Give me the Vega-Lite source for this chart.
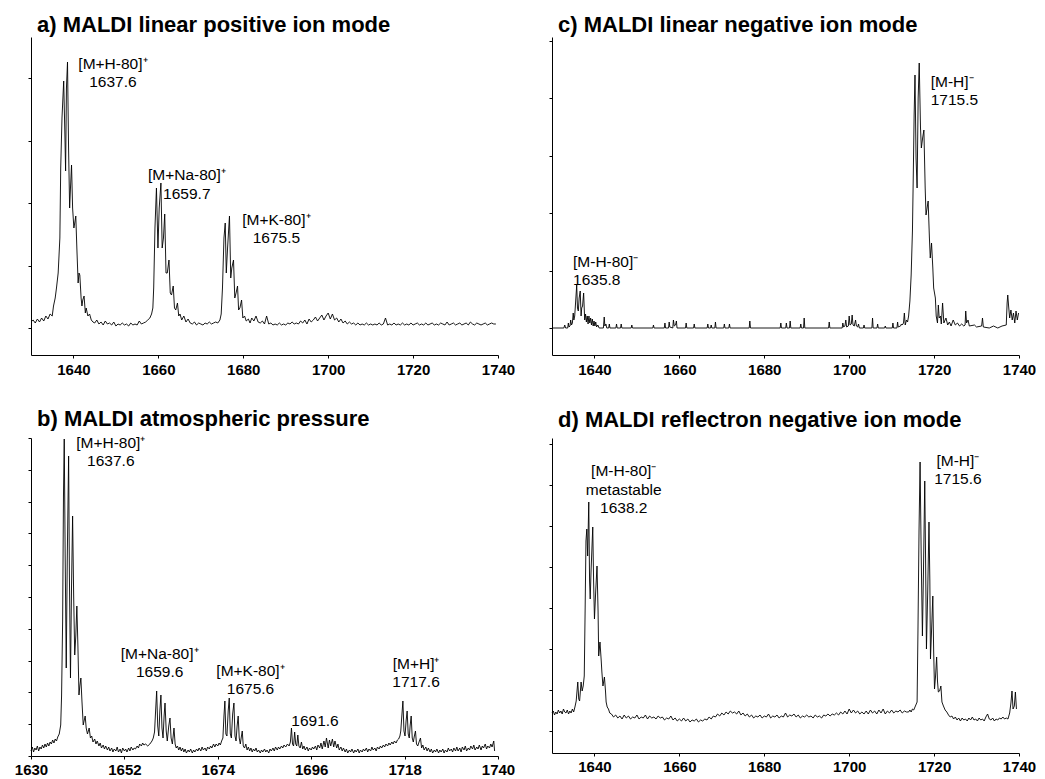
{
"$schema": "https://vega.github.io/schema/vega-lite/v6.json",
"background": "white",
"padding": {"left": 14, "top": 14, "right": 0, "bottom": 0},
"columns": 2,
"spacing": {"row": 83, "column": 54},
"bounds": "flush",
"align": "all",
"config": {
  "font": "Liberation Sans",
  "view": {"stroke": null},
  "axis": {"grid": false, "domainColor": "black", "domainWidth": 1, "tickColor": "black", "tickWidth": 1, "labelColor": "black", "title": null},
  "title": {"anchor": "start", "frame": "group", "fontSize": 22, "fontWeight": "bold", "font": "Liberation Sans", "color": "black", "baseline": "alphabetic", "dx": 6},
  "text": {"font": "Liberation Sans", "fontSize": 15.5, "color": "black", "lineBreak": "\n", "lineHeight": 18.5, "baseline": "alphabetic"}
},
"datasets": {
"a": [
{"mz":1630,"i":6},{"mz":1630.5,"i":8},{"mz":1631,"i":5},{"mz":1631.5,"i":9},{"mz":1632,"i":6},{"mz":1632.5,"i":10},{"mz":1633,"i":7},{"mz":1633.5,"i":12},{"mz":1634,"i":9},{"mz":1634.5,"i":14},{"mz":1635,"i":12},{"mz":1635.3,"i":22},{"mz":1635.7,"i":30},{"mz":1636,"i":40},{"mz":1636.4,"i":55},{"mz":1636.8,"i":90},{"mz":1637.0,"i":160},{"mz":1637.3,"i":210},{"mz":1637.7,"i":247},{"mz":1638.0,"i":190},{"mz":1638.15,"i":157},{"mz":1638.35,"i":240},{"mz":1638.6,"i":266},{"mz":1638.85,"i":180},{"mz":1639.1,"i":120},{"mz":1639.3,"i":140},{"mz":1639.55,"i":163},{"mz":1639.8,"i":120},{"mz":1640.1,"i":100},{"mz":1640.3,"i":105},{"mz":1640.55,"i":112},{"mz":1640.8,"i":80},{"mz":1641.1,"i":45},{"mz":1641.3,"i":55},{"mz":1641.5,"i":53},{"mz":1641.8,"i":30},{"mz":1642.0,"i":22},{"mz":1642.2,"i":28},{"mz":1642.5,"i":32},{"mz":1642.8,"i":15},{"mz":1643.0,"i":20},{"mz":1643.4,"i":12},{"mz":1643.8,"i":14},{"mz":1644.2,"i":8},{"mz":1644.6,"i":6},{"mz":1645,"i":5},{"mz":1645.5,"i":8},{"mz":1646,"i":4},{"mz":1646.5,"i":6},{"mz":1647,"i":3},{"mz":1647.5,"i":7},{"mz":1648,"i":4},{"mz":1648.5,"i":5},{"mz":1649,"i":3},{"mz":1649.5,"i":6},{"mz":1650,"i":2},{"mz":1650.5,"i":4},{"mz":1651,"i":3},{"mz":1651.5,"i":5},{"mz":1652,"i":3},{"mz":1652.5,"i":4},{"mz":1653,"i":2},{"mz":1653.5,"i":5},{"mz":1654,"i":3},{"mz":1654.5,"i":4},{"mz":1655,"i":3},{"mz":1655.5,"i":7},{"mz":1656,"i":4},{"mz":1656.5,"i":5},{"mz":1657,"i":6},{"mz":1657.5,"i":8},{"mz":1658,"i":10},{"mz":1658.4,"i":14},{"mz":1658.7,"i":20},{"mz":1658.9,"i":40},{"mz":1659.2,"i":100},{"mz":1659.55,"i":140},{"mz":1659.9,"i":80},{"mz":1660.2,"i":120},{"mz":1660.6,"i":145},{"mz":1660.9,"i":80},{"mz":1661.2,"i":90},{"mz":1661.5,"i":114},{"mz":1661.8,"i":55},{"mz":1662.1,"i":55},{"mz":1662.5,"i":68},{"mz":1662.8,"i":35},{"mz":1663.1,"i":33},{"mz":1663.5,"i":42},{"mz":1663.8,"i":20},{"mz":1664.1,"i":18},{"mz":1664.5,"i":25},{"mz":1664.8,"i":12},{"mz":1665.1,"i":14},{"mz":1665.5,"i":8},{"mz":1666,"i":12},{"mz":1666.5,"i":6},{"mz":1667,"i":9},{"mz":1667.5,"i":5},{"mz":1668,"i":4},{"mz":1668.5,"i":6},{"mz":1669,"i":3},{"mz":1669.5,"i":5},{"mz":1670,"i":4},{"mz":1670.5,"i":3},{"mz":1671,"i":5},{"mz":1671.5,"i":4},{"mz":1672,"i":6},{"mz":1672.5,"i":4},{"mz":1673,"i":5},{"mz":1673.5,"i":6},{"mz":1674,"i":5},{"mz":1674.5,"i":8},{"mz":1674.8,"i":14},{"mz":1675.1,"i":40},{"mz":1675.45,"i":90},{"mz":1675.75,"i":105},{"mz":1676.0,"i":55},{"mz":1676.3,"i":80},{"mz":1676.75,"i":112},{"mz":1677.05,"i":50},{"mz":1677.3,"i":60},{"mz":1677.7,"i":68},{"mz":1678.0,"i":30},{"mz":1678.3,"i":35},{"mz":1678.65,"i":42},{"mz":1678.9,"i":18},{"mz":1679.2,"i":20},{"mz":1679.6,"i":28},{"mz":1679.9,"i":10},{"mz":1680.3,"i":12},{"mz":1680.7,"i":7},{"mz":1681.2,"i":9},{"mz":1681.6,"i":5},{"mz":1682,"i":10},{"mz":1682.5,"i":7},{"mz":1683,"i":12},{"mz":1683.5,"i":6},{"mz":1684,"i":5},{"mz":1684.5,"i":7},{"mz":1685,"i":4},{"mz":1685.5,"i":12},{"mz":1686,"i":4},{"mz":1686.5,"i":5},{"mz":1687,"i":3},{"mz":1687.5,"i":4},{"mz":1688,"i":3},{"mz":1688.5,"i":5},{"mz":1689,"i":3},{"mz":1689.5,"i":4},{"mz":1690,"i":3},{"mz":1690.5,"i":5},{"mz":1691,"i":4},{"mz":1691.5,"i":6},{"mz":1692,"i":4},{"mz":1692.5,"i":5},{"mz":1693,"i":4},{"mz":1693.5,"i":7},{"mz":1694,"i":5},{"mz":1694.5,"i":8},{"mz":1695,"i":4},{"mz":1695.5,"i":9},{"mz":1696,"i":6},{"mz":1696.5,"i":8},{"mz":1697,"i":11},{"mz":1697.5,"i":7},{"mz":1698,"i":10},{"mz":1698.5,"i":13},{"mz":1699,"i":8},{"mz":1699.5,"i":12},{"mz":1700,"i":15},{"mz":1700.5,"i":9},{"mz":1701,"i":14},{"mz":1701.5,"i":8},{"mz":1702,"i":10},{"mz":1702.5,"i":6},{"mz":1703,"i":9},{"mz":1703.5,"i":5},{"mz":1704,"i":7},{"mz":1704.5,"i":4},{"mz":1705,"i":6},{"mz":1705.5,"i":4},{"mz":1706,"i":5},{"mz":1706.5,"i":3},{"mz":1707,"i":5},{"mz":1707.5,"i":3},{"mz":1708,"i":4},{"mz":1708.5,"i":3},{"mz":1709,"i":5},{"mz":1709.5,"i":3},{"mz":1710,"i":4},{"mz":1710.5,"i":3},{"mz":1711,"i":4},{"mz":1711.5,"i":3},{"mz":1712,"i":5},{"mz":1712.5,"i":3},{"mz":1713,"i":4},{"mz":1713.5,"i":10},{"mz":1714,"i":3},{"mz":1714.5,"i":4},{"mz":1715,"i":3},{"mz":1715.5,"i":5},{"mz":1716,"i":3},{"mz":1716.5,"i":4},{"mz":1717,"i":3},{"mz":1717.5,"i":5},{"mz":1718,"i":3},{"mz":1718.5,"i":4},{"mz":1719,"i":3},{"mz":1719.5,"i":5},{"mz":1720,"i":3},{"mz":1720.5,"i":4},{"mz":1721,"i":5},{"mz":1721.5,"i":3},{"mz":1722,"i":4},{"mz":1722.5,"i":3},{"mz":1723,"i":5},{"mz":1723.5,"i":3},{"mz":1724,"i":4},{"mz":1724.5,"i":5},{"mz":1725,"i":3},{"mz":1725.5,"i":4},{"mz":1726,"i":3},{"mz":1726.5,"i":5},{"mz":1727,"i":4},{"mz":1727.5,"i":3},{"mz":1728,"i":6},{"mz":1728.5,"i":3},{"mz":1729,"i":4},{"mz":1729.5,"i":5},{"mz":1730,"i":3},{"mz":1730.5,"i":4},{"mz":1731,"i":5},{"mz":1731.5,"i":3},{"mz":1732,"i":4},{"mz":1732.5,"i":5},{"mz":1733,"i":3},{"mz":1733.5,"i":6},{"mz":1734,"i":4},{"mz":1734.5,"i":3},{"mz":1735,"i":5},{"mz":1735.5,"i":4},{"mz":1736,"i":3},{"mz":1736.5,"i":4},{"mz":1737,"i":5},{"mz":1737.5,"i":3},{"mz":1738,"i":4},{"mz":1738.5,"i":5},{"mz":1739,"i":4},{"mz":1739.5,"i":4}
],
"a_t": [
{"mz":1649.3,"i":259.5,"t":"[M+H-80]⁺\n1637.6"},
{"mz":1666.7,"i":148,"t":"[M+Na-80]⁺\n1659.7"},
{"mz":1687.8,"i":103.5,"t":"[M+K-80]⁺\n1675.5"}
],
"c": [
{"mz":1630,"i":0},{"mz":1632.8,"i":0},{"mz":1633,"i":3},{"mz":1633.2,"i":0},{"mz":1633.7,"i":0},{"mz":1633.85,"i":5},{"mz":1634.0,"i":1},{"mz":1634.25,"i":2},{"mz":1634.4,"i":8},{"mz":1634.6,"i":3},{"mz":1634.8,"i":5},{"mz":1635.0,"i":15},{"mz":1635.15,"i":8},{"mz":1635.35,"i":12},{"mz":1635.55,"i":25},{"mz":1635.82,"i":43},{"mz":1636.0,"i":20},{"mz":1636.2,"i":17},{"mz":1636.4,"i":30},{"mz":1636.65,"i":37},{"mz":1636.85,"i":12},{"mz":1637.0,"i":20},{"mz":1637.2,"i":22},{"mz":1637.45,"i":35},{"mz":1637.7,"i":8},{"mz":1637.9,"i":14},{"mz":1638.1,"i":6},{"mz":1638.3,"i":12},{"mz":1638.5,"i":4},{"mz":1638.7,"i":12},{"mz":1638.9,"i":5},{"mz":1639.1,"i":10},{"mz":1639.3,"i":3},{"mz":1639.5,"i":9},{"mz":1639.7,"i":2},{"mz":1639.9,"i":7},{"mz":1640.1,"i":2},{"mz":1640.3,"i":6},{"mz":1640.5,"i":1},{"mz":1640.8,"i":3},{"mz":1641.1,"i":0},{"mz":1642.1,"i":0},{"mz":1642.3,"i":11},{"mz":1642.45,"i":2},{"mz":1642.7,"i":4},{"mz":1642.9,"i":0},{"mz":1643.35,"i":0},{"mz":1643.5,"i":4},{"mz":1643.65,"i":0},{"mz":1645.05,"i":0},{"mz":1645.2,"i":4},{"mz":1645.35,"i":0},{"mz":1646.15,"i":0},{"mz":1646.3,"i":4},{"mz":1646.45,"i":0},{"mz":1648.65,"i":0},{"mz":1648.8,"i":3},{"mz":1648.95,"i":0},{"mz":1653.75,"i":0},{"mz":1653.9,"i":3},{"mz":1654.05,"i":0},{"mz":1656.45,"i":0},{"mz":1656.6,"i":5},{"mz":1656.75,"i":0},{"mz":1657.45,"i":0},{"mz":1657.6,"i":6},{"mz":1657.75,"i":1},{"mz":1658.45,"i":0},{"mz":1658.6,"i":8},{"mz":1658.8,"i":2},{"mz":1659.1,"i":3},{"mz":1659.3,"i":7},{"mz":1659.45,"i":0},{"mz":1661.45,"i":0},{"mz":1661.6,"i":5},{"mz":1661.75,"i":0},{"mz":1663.35,"i":0},{"mz":1663.5,"i":4},{"mz":1663.65,"i":0},{"mz":1666.55,"i":0},{"mz":1666.7,"i":4},{"mz":1666.85,"i":0},{"mz":1667.35,"i":0},{"mz":1667.5,"i":3},{"mz":1667.65,"i":0},{"mz":1668.35,"i":0},{"mz":1668.5,"i":6},{"mz":1668.65,"i":0},{"mz":1670.45,"i":0},{"mz":1670.6,"i":4},{"mz":1670.75,"i":0},{"mz":1671.65,"i":0},{"mz":1671.8,"i":4},{"mz":1671.95,"i":0},{"mz":1676.45,"i":0},{"mz":1676.6,"i":7},{"mz":1676.75,"i":0},{"mz":1683.75,"i":0},{"mz":1683.9,"i":5},{"mz":1684.05,"i":0},{"mz":1685.05,"i":0},{"mz":1685.2,"i":5},{"mz":1685.35,"i":0},{"mz":1685.95,"i":0},{"mz":1686.1,"i":7},{"mz":1686.25,"i":0},{"mz":1688.45,"i":0},{"mz":1688.6,"i":4},{"mz":1688.75,"i":0},{"mz":1689.25,"i":0},{"mz":1689.4,"i":10},{"mz":1689.55,"i":0},{"mz":1695.15,"i":0},{"mz":1695.3,"i":6},{"mz":1695.45,"i":0},{"mz":1698.35,"i":0},{"mz":1698.5,"i":5},{"mz":1698.7,"i":1},{"mz":1699.0,"i":2},{"mz":1699.2,"i":8},{"mz":1699.4,"i":1},{"mz":1699.8,"i":2},{"mz":1700.0,"i":12},{"mz":1700.2,"i":3},{"mz":1700.5,"i":4},{"mz":1700.7,"i":13},{"mz":1700.9,"i":3},{"mz":1701.2,"i":2},{"mz":1701.5,"i":8},{"mz":1701.7,"i":2},{"mz":1702.0,"i":1},{"mz":1702.2,"i":4},{"mz":1702.4,"i":0},{"mz":1703.35,"i":0},{"mz":1703.5,"i":3},{"mz":1703.65,"i":0},{"mz":1705.35,"i":0},{"mz":1705.5,"i":10},{"mz":1705.65,"i":0},{"mz":1706.55,"i":0},{"mz":1706.7,"i":4},{"mz":1706.85,"i":0},{"mz":1708.35,"i":0},{"mz":1708.5,"i":2},{"mz":1708.65,"i":0},{"mz":1710.15,"i":0},{"mz":1710.3,"i":5},{"mz":1710.45,"i":0},{"mz":1711.25,"i":0},{"mz":1711.4,"i":6},{"mz":1711.55,"i":1},{"mz":1712.1,"i":2},{"mz":1712.3,"i":4},{"mz":1712.5,"i":3},{"mz":1712.8,"i":5},{"mz":1713.0,"i":15},{"mz":1713.2,"i":3},{"mz":1713.5,"i":8},{"mz":1713.75,"i":6},{"mz":1714.0,"i":12},{"mz":1714.3,"i":27},{"mz":1714.6,"i":53},{"mz":1714.9,"i":97},{"mz":1715.1,"i":153},{"mz":1715.3,"i":213},{"mz":1715.5,"i":253},{"mz":1715.75,"i":170},{"mz":1716.0,"i":140},{"mz":1716.25,"i":230},{"mz":1716.5,"i":265},{"mz":1716.8,"i":200},{"mz":1717.0,"i":180},{"mz":1717.3,"i":190},{"mz":1717.6,"i":198},{"mz":1717.9,"i":140},{"mz":1718.1,"i":113},{"mz":1718.35,"i":120},{"mz":1718.6,"i":127},{"mz":1718.9,"i":90},{"mz":1719.1,"i":70},{"mz":1719.4,"i":85},{"mz":1719.7,"i":60},{"mz":1719.9,"i":40},{"mz":1720.3,"i":30},{"mz":1720.5,"i":12},{"mz":1720.8,"i":5},{"mz":1721.0,"i":23},{"mz":1721.2,"i":10},{"mz":1721.5,"i":12},{"mz":1721.7,"i":4},{"mz":1722.0,"i":25},{"mz":1722.3,"i":5},{"mz":1722.8,"i":10},{"mz":1723.2,"i":3},{"mz":1723.6,"i":6},{"mz":1724,"i":2},{"mz":1724.5,"i":8},{"mz":1725,"i":3},{"mz":1725.5,"i":5},{"mz":1726,"i":2},{"mz":1726.5,"i":4},{"mz":1727,"i":2},{"mz":1727.3,"i":3},{"mz":1727.45,"i":17},{"mz":1727.65,"i":5},{"mz":1728,"i":8},{"mz":1728.3,"i":2},{"mz":1729.5,"i":3},{"mz":1730,"i":1},{"mz":1731.2,"i":2},{"mz":1731.4,"i":10},{"mz":1731.6,"i":1},{"mz":1733,"i":0},{"mz":1734,"i":2},{"mz":1735,"i":0},{"mz":1736,"i":2},{"mz":1737,"i":3},{"mz":1737.2,"i":25},{"mz":1737.35,"i":33},{"mz":1737.55,"i":22},{"mz":1737.8,"i":10},{"mz":1738.1,"i":18},{"mz":1738.4,"i":8},{"mz":1738.7,"i":15},{"mz":1739.0,"i":5},{"mz":1739.3,"i":17},{"mz":1739.6,"i":8},{"mz":1739.9,"i":15}
],
"c_t": [
{"mz":1634.95,"i":61.5,"t":"[M-H-80]⁻\n1635.8"},
{"mz":1719.2,"i":241.5,"t":"[M-H]⁻\n1715.5"}
],
"b": [
{"mz":1630,"i":5},{"mz":1630.3,"i":9},{"mz":1630.6,"i":4},{"mz":1630.9,"i":8},{"mz":1631.2,"i":6},{"mz":1631.5,"i":10},{"mz":1631.8,"i":5},{"mz":1632.1,"i":9},{"mz":1632.4,"i":7},{"mz":1632.7,"i":11},{"mz":1633,"i":8},{"mz":1633.3,"i":12},{"mz":1633.6,"i":9},{"mz":1633.9,"i":13},{"mz":1634.2,"i":10},{"mz":1634.5,"i":14},{"mz":1634.8,"i":12},{"mz":1635.1,"i":16},{"mz":1635.4,"i":13},{"mz":1635.7,"i":17},{"mz":1636.0,"i":15},{"mz":1636.3,"i":19},{"mz":1636.65,"i":22},{"mz":1637.0,"i":31},{"mz":1637.2,"i":60},{"mz":1637.45,"i":135},{"mz":1637.65,"i":260},{"mz":1637.83,"i":317},{"mz":1638.05,"i":200},{"mz":1638.3,"i":88},{"mz":1638.55,"i":200},{"mz":1638.86,"i":300},{"mz":1639.05,"i":180},{"mz":1639.3,"i":78},{"mz":1639.55,"i":170},{"mz":1639.8,"i":240},{"mz":1640.05,"i":160},{"mz":1640.3,"i":101},{"mz":1640.55,"i":120},{"mz":1640.8,"i":150},{"mz":1641.05,"i":110},{"mz":1641.3,"i":61},{"mz":1641.5,"i":70},{"mz":1641.75,"i":78},{"mz":1642.0,"i":55},{"mz":1642.3,"i":31},{"mz":1642.5,"i":35},{"mz":1642.76,"i":40},{"mz":1643.0,"i":28},{"mz":1643.3,"i":22},{"mz":1643.7,"i":28},{"mz":1644.0,"i":18},{"mz":1644.3,"i":20},{"mz":1644.6,"i":14},{"mz":1645.0,"i":17},{"mz":1645.3,"i":12},{"mz":1645.6,"i":15},{"mz":1646.0,"i":10},{"mz":1646.3,"i":13},{"mz":1646.6,"i":8},{"mz":1647.0,"i":11},{"mz":1647.3,"i":7},{"mz":1647.6,"i":10},{"mz":1648,"i":6},{"mz":1648.3,"i":9},{"mz":1648.6,"i":5},{"mz":1649,"i":8},{"mz":1649.3,"i":4},{"mz":1649.6,"i":7},{"mz":1650,"i":5},{"mz":1650.3,"i":9},{"mz":1650.6,"i":4},{"mz":1651,"i":7},{"mz":1651.3,"i":3},{"mz":1651.6,"i":8},{"mz":1652,"i":5},{"mz":1652.3,"i":7},{"mz":1652.6,"i":4},{"mz":1653,"i":8},{"mz":1653.3,"i":5},{"mz":1653.6,"i":9},{"mz":1654,"i":6},{"mz":1654.3,"i":8},{"mz":1654.6,"i":7},{"mz":1655,"i":10},{"mz":1655.3,"i":8},{"mz":1655.6,"i":12},{"mz":1656,"i":10},{"mz":1656.3,"i":13},{"mz":1656.6,"i":11},{"mz":1657,"i":12},{"mz":1657.5,"i":10},{"mz":1658,"i":12},{"mz":1658.5,"i":15},{"mz":1658.8,"i":18},{"mz":1659.1,"i":24},{"mz":1659.35,"i":45},{"mz":1659.6,"i":65},{"mz":1659.85,"i":30},{"mz":1660.1,"i":20},{"mz":1660.35,"i":45},{"mz":1660.6,"i":61},{"mz":1660.85,"i":28},{"mz":1661.1,"i":18},{"mz":1661.35,"i":40},{"mz":1661.57,"i":53},{"mz":1661.85,"i":25},{"mz":1662.1,"i":15},{"mz":1662.45,"i":30},{"mz":1662.74,"i":38},{"mz":1663.0,"i":18},{"mz":1663.3,"i":12},{"mz":1663.68,"i":28},{"mz":1663.95,"i":12},{"mz":1664.2,"i":8},{"mz":1664.5,"i":10},{"mz":1664.8,"i":6},{"mz":1665.1,"i":9},{"mz":1665.4,"i":5},{"mz":1665.7,"i":8},{"mz":1666,"i":4},{"mz":1666.3,"i":7},{"mz":1666.6,"i":3},{"mz":1667,"i":6},{"mz":1667.3,"i":4},{"mz":1667.6,"i":7},{"mz":1668,"i":3},{"mz":1668.3,"i":6},{"mz":1668.6,"i":4},{"mz":1669,"i":7},{"mz":1669.3,"i":5},{"mz":1669.6,"i":8},{"mz":1670,"i":5},{"mz":1670.3,"i":9},{"mz":1670.6,"i":6},{"mz":1671,"i":8},{"mz":1671.3,"i":5},{"mz":1671.6,"i":9},{"mz":1672,"i":7},{"mz":1672.3,"i":10},{"mz":1672.6,"i":8},{"mz":1673,"i":12},{"mz":1673.3,"i":9},{"mz":1673.6,"i":12},{"mz":1674,"i":10},{"mz":1674.3,"i":13},{"mz":1674.6,"i":11},{"mz":1674.9,"i":15},{"mz":1675.2,"i":18},{"mz":1675.45,"i":40},{"mz":1675.67,"i":55},{"mz":1675.9,"i":22},{"mz":1676.15,"i":20},{"mz":1676.45,"i":45},{"mz":1676.7,"i":58},{"mz":1676.95,"i":22},{"mz":1677.2,"i":18},{"mz":1677.5,"i":42},{"mz":1677.8,"i":53},{"mz":1678.05,"i":20},{"mz":1678.3,"i":15},{"mz":1678.55,"i":30},{"mz":1678.8,"i":40},{"mz":1679.05,"i":18},{"mz":1679.3,"i":12},{"mz":1679.5,"i":18},{"mz":1679.76,"i":25},{"mz":1680.0,"i":10},{"mz":1680.3,"i":8},{"mz":1680.6,"i":12},{"mz":1680.9,"i":6},{"mz":1681.2,"i":9},{"mz":1681.5,"i":5},{"mz":1681.8,"i":8},{"mz":1682.1,"i":4},{"mz":1682.4,"i":7},{"mz":1682.7,"i":5},{"mz":1683,"i":8},{"mz":1683.3,"i":4},{"mz":1683.6,"i":6},{"mz":1684,"i":3},{"mz":1684.3,"i":6},{"mz":1684.6,"i":4},{"mz":1685,"i":7},{"mz":1685.3,"i":4},{"mz":1685.6,"i":6},{"mz":1686,"i":3},{"mz":1686.3,"i":7},{"mz":1686.6,"i":5},{"mz":1687,"i":8},{"mz":1687.3,"i":5},{"mz":1687.6,"i":9},{"mz":1688,"i":6},{"mz":1688.3,"i":9},{"mz":1688.6,"i":7},{"mz":1689,"i":10},{"mz":1689.3,"i":8},{"mz":1689.6,"i":11},{"mz":1690,"i":9},{"mz":1690.4,"i":12},{"mz":1690.8,"i":10},{"mz":1691.1,"i":14},{"mz":1691.35,"i":28},{"mz":1691.6,"i":12},{"mz":1691.85,"i":10},{"mz":1692.1,"i":24},{"mz":1692.35,"i":12},{"mz":1692.6,"i":10},{"mz":1692.85,"i":21},{"mz":1693.1,"i":10},{"mz":1693.4,"i":8},{"mz":1693.7,"i":14},{"mz":1694,"i":7},{"mz":1694.3,"i":10},{"mz":1694.6,"i":6},{"mz":1695,"i":9},{"mz":1695.3,"i":5},{"mz":1695.6,"i":8},{"mz":1696,"i":6},{"mz":1696.3,"i":9},{"mz":1696.6,"i":7},{"mz":1697,"i":10},{"mz":1697.3,"i":6},{"mz":1697.6,"i":11},{"mz":1698,"i":8},{"mz":1698.3,"i":13},{"mz":1698.6,"i":7},{"mz":1699,"i":15},{"mz":1699.3,"i":9},{"mz":1699.6,"i":18},{"mz":1700,"i":8},{"mz":1700.3,"i":16},{"mz":1700.6,"i":10},{"mz":1701,"i":17},{"mz":1701.3,"i":9},{"mz":1701.6,"i":15},{"mz":1702,"i":8},{"mz":1702.3,"i":12},{"mz":1702.6,"i":6},{"mz":1703,"i":9},{"mz":1703.3,"i":5},{"mz":1703.6,"i":8},{"mz":1704,"i":4},{"mz":1704.3,"i":7},{"mz":1704.6,"i":3},{"mz":1705,"i":6},{"mz":1705.3,"i":4},{"mz":1705.6,"i":7},{"mz":1706,"i":3},{"mz":1706.3,"i":6},{"mz":1706.6,"i":4},{"mz":1707,"i":7},{"mz":1707.3,"i":3},{"mz":1707.6,"i":6},{"mz":1708,"i":4},{"mz":1708.3,"i":7},{"mz":1708.6,"i":5},{"mz":1709,"i":8},{"mz":1709.3,"i":4},{"mz":1709.6,"i":7},{"mz":1710,"i":5},{"mz":1710.3,"i":9},{"mz":1710.6,"i":6},{"mz":1711,"i":8},{"mz":1711.3,"i":5},{"mz":1711.6,"i":9},{"mz":1712,"i":7},{"mz":1712.3,"i":10},{"mz":1712.6,"i":8},{"mz":1713,"i":11},{"mz":1713.3,"i":9},{"mz":1713.6,"i":12},{"mz":1714,"i":10},{"mz":1714.3,"i":13},{"mz":1714.6,"i":11},{"mz":1715,"i":14},{"mz":1715.3,"i":12},{"mz":1715.6,"i":15},{"mz":1716,"i":13},{"mz":1716.3,"i":16},{"mz":1716.6,"i":17},{"mz":1716.9,"i":20},{"mz":1717.1,"i":25},{"mz":1717.35,"i":40},{"mz":1717.6,"i":55},{"mz":1717.85,"i":25},{"mz":1718.1,"i":20},{"mz":1718.35,"i":35},{"mz":1718.6,"i":45},{"mz":1718.85,"i":22},{"mz":1719.1,"i":18},{"mz":1719.3,"i":30},{"mz":1719.55,"i":40},{"mz":1719.8,"i":18},{"mz":1720.05,"i":14},{"mz":1720.3,"i":20},{"mz":1720.56,"i":25},{"mz":1720.8,"i":12},{"mz":1721.1,"i":10},{"mz":1721.4,"i":14},{"mz":1721.74,"i":18},{"mz":1722.0,"i":8},{"mz":1722.3,"i":11},{"mz":1722.6,"i":6},{"mz":1723,"i":9},{"mz":1723.3,"i":5},{"mz":1723.6,"i":8},{"mz":1724,"i":4},{"mz":1724.3,"i":7},{"mz":1724.6,"i":3},{"mz":1725,"i":6},{"mz":1725.3,"i":4},{"mz":1725.6,"i":7},{"mz":1726,"i":3},{"mz":1726.3,"i":6},{"mz":1726.6,"i":4},{"mz":1727,"i":7},{"mz":1727.3,"i":3},{"mz":1727.6,"i":6},{"mz":1728,"i":4},{"mz":1728.3,"i":8},{"mz":1728.6,"i":5},{"mz":1729,"i":7},{"mz":1729.3,"i":4},{"mz":1729.6,"i":8},{"mz":1730,"i":5},{"mz":1730.3,"i":9},{"mz":1730.6,"i":5},{"mz":1731,"i":8},{"mz":1731.3,"i":4},{"mz":1731.6,"i":9},{"mz":1732,"i":6},{"mz":1732.3,"i":10},{"mz":1732.6,"i":5},{"mz":1733,"i":8},{"mz":1733.3,"i":6},{"mz":1733.6,"i":10},{"mz":1734,"i":7},{"mz":1734.3,"i":11},{"mz":1734.6,"i":6},{"mz":1735,"i":9},{"mz":1735.3,"i":7},{"mz":1735.6,"i":11},{"mz":1736,"i":6},{"mz":1736.3,"i":10},{"mz":1736.6,"i":8},{"mz":1737,"i":12},{"mz":1737.3,"i":7},{"mz":1737.6,"i":10},{"mz":1738,"i":8},{"mz":1738.3,"i":12},{"mz":1738.6,"i":9},{"mz":1739,"i":15},{"mz":1739.2,"i":5}
],
"b_t": [
{"mz":1648.8,"i":308.5,"t":"[M+H-80]⁺\n1637.6"},
{"mz":1660.3,"i":97.5,"t":"[M+Na-80]⁺\n1659.6"},
{"mz":1681.7,"i":80.5,"t":"[M+K-80]⁺\n1675.6"},
{"mz":1696.9,"i":30.5,"t":"1691.6"},
{"mz":1720.7,"i":87.5,"t":"[M+H]⁺\n1717.6"}
],
"d": [
{"mz":1630,"i":18},{"mz":1630.3,"i":20},{"mz":1630.6,"i":16},{"mz":1630.9,"i":19},{"mz":1631.2,"i":17},{"mz":1631.5,"i":21},{"mz":1631.8,"i":18},{"mz":1632.1,"i":20},{"mz":1632.4,"i":17},{"mz":1632.7,"i":22},{"mz":1633,"i":19},{"mz":1633.3,"i":18},{"mz":1633.6,"i":21},{"mz":1633.9,"i":17},{"mz":1634.2,"i":20},{"mz":1634.5,"i":18},{"mz":1634.8,"i":22},{"mz":1635.1,"i":19},{"mz":1635.4,"i":24},{"mz":1635.7,"i":30},{"mz":1636.07,"i":49},{"mz":1636.3,"i":32},{"mz":1636.5,"i":30},{"mz":1636.85,"i":49},{"mz":1637.1,"i":40},{"mz":1637.35,"i":45},{"mz":1637.6,"i":55},{"mz":1637.8,"i":120},{"mz":1638.0,"i":190},{"mz":1638.2,"i":202},{"mz":1638.4,"i":175},{"mz":1638.66,"i":229},{"mz":1638.85,"i":150},{"mz":1639.0,"i":132},{"mz":1639.2,"i":160},{"mz":1639.6,"i":204},{"mz":1639.8,"i":150},{"mz":1640.0,"i":112},{"mz":1640.3,"i":140},{"mz":1640.6,"i":165},{"mz":1640.85,"i":120},{"mz":1641.0,"i":75},{"mz":1641.3,"i":89},{"mz":1641.6,"i":70},{"mz":1641.75,"i":59},{"mz":1642.0,"i":45},{"mz":1642.35,"i":54},{"mz":1642.6,"i":40},{"mz":1642.75,"i":29},{"mz":1643.0,"i":24},{"mz":1643.3,"i":22},{"mz":1643.6,"i":18},{"mz":1644,"i":17},{"mz":1644.5,"i":14},{"mz":1645,"i":16},{"mz":1645.5,"i":13},{"mz":1646,"i":15},{"mz":1646.5,"i":12},{"mz":1647,"i":16},{"mz":1647.5,"i":13},{"mz":1648,"i":15},{"mz":1648.5,"i":12},{"mz":1649,"i":14},{"mz":1649.5,"i":13},{"mz":1650,"i":16},{"mz":1650.5,"i":12},{"mz":1651,"i":14},{"mz":1651.5,"i":13},{"mz":1652,"i":16},{"mz":1652.5,"i":12},{"mz":1653,"i":15},{"mz":1653.5,"i":13},{"mz":1654,"i":14},{"mz":1654.5,"i":12},{"mz":1655,"i":15},{"mz":1655.5,"i":13},{"mz":1656,"i":14},{"mz":1656.5,"i":11},{"mz":1657,"i":13},{"mz":1657.5,"i":12},{"mz":1658,"i":15},{"mz":1658.5,"i":11},{"mz":1659,"i":13},{"mz":1659.5,"i":10},{"mz":1660,"i":12},{"mz":1660.5,"i":10},{"mz":1661,"i":13},{"mz":1661.5,"i":10},{"mz":1662,"i":12},{"mz":1662.5,"i":9},{"mz":1663,"i":11},{"mz":1663.5,"i":10},{"mz":1664,"i":12},{"mz":1664.5,"i":9},{"mz":1665,"i":11},{"mz":1665.5,"i":10},{"mz":1666,"i":12},{"mz":1666.5,"i":11},{"mz":1667,"i":14},{"mz":1667.5,"i":12},{"mz":1668,"i":15},{"mz":1668.5,"i":14},{"mz":1669,"i":17},{"mz":1669.5,"i":15},{"mz":1670,"i":18},{"mz":1670.5,"i":16},{"mz":1671,"i":19},{"mz":1671.5,"i":17},{"mz":1672,"i":20},{"mz":1672.5,"i":18},{"mz":1673,"i":19},{"mz":1673.5,"i":17},{"mz":1674,"i":20},{"mz":1674.5,"i":16},{"mz":1675,"i":18},{"mz":1675.5,"i":15},{"mz":1676,"i":17},{"mz":1676.5,"i":14},{"mz":1677,"i":16},{"mz":1677.5,"i":13},{"mz":1678,"i":15},{"mz":1678.5,"i":14},{"mz":1679,"i":16},{"mz":1679.5,"i":13},{"mz":1680,"i":15},{"mz":1680.5,"i":14},{"mz":1681,"i":17},{"mz":1681.5,"i":13},{"mz":1682,"i":15},{"mz":1682.5,"i":14},{"mz":1683,"i":16},{"mz":1683.5,"i":13},{"mz":1684,"i":15},{"mz":1684.5,"i":14},{"mz":1685,"i":18},{"mz":1685.5,"i":14},{"mz":1686,"i":16},{"mz":1686.5,"i":15},{"mz":1687,"i":17},{"mz":1687.5,"i":14},{"mz":1688,"i":16},{"mz":1688.5,"i":13},{"mz":1689,"i":15},{"mz":1689.5,"i":14},{"mz":1690,"i":16},{"mz":1690.5,"i":14},{"mz":1691,"i":15},{"mz":1691.5,"i":13},{"mz":1692,"i":16},{"mz":1692.5,"i":14},{"mz":1693,"i":15},{"mz":1693.5,"i":13},{"mz":1694,"i":16},{"mz":1694.5,"i":15},{"mz":1695,"i":17},{"mz":1695.5,"i":15},{"mz":1696,"i":17},{"mz":1696.5,"i":16},{"mz":1697,"i":18},{"mz":1697.5,"i":16},{"mz":1698,"i":19},{"mz":1698.5,"i":17},{"mz":1699,"i":20},{"mz":1699.5,"i":17},{"mz":1700,"i":22},{"mz":1700.5,"i":18},{"mz":1701,"i":21},{"mz":1701.5,"i":18},{"mz":1702,"i":20},{"mz":1702.5,"i":17},{"mz":1703,"i":19},{"mz":1703.5,"i":17},{"mz":1704,"i":20},{"mz":1704.5,"i":17},{"mz":1705,"i":21},{"mz":1705.5,"i":18},{"mz":1706,"i":20},{"mz":1706.5,"i":17},{"mz":1707,"i":21},{"mz":1707.5,"i":18},{"mz":1708,"i":22},{"mz":1708.5,"i":17},{"mz":1709,"i":20},{"mz":1709.5,"i":18},{"mz":1710,"i":21},{"mz":1710.5,"i":18},{"mz":1711,"i":20},{"mz":1711.5,"i":19},{"mz":1712,"i":21},{"mz":1712.5,"i":18},{"mz":1713,"i":20},{"mz":1713.5,"i":19},{"mz":1714,"i":19},{"mz":1714.3,"i":21},{"mz":1714.6,"i":19},{"mz":1714.9,"i":22},{"mz":1715.2,"i":21},{"mz":1715.5,"i":24},{"mz":1715.8,"i":27},{"mz":1716.0,"i":29},{"mz":1716.2,"i":100},{"mz":1716.45,"i":200},{"mz":1716.7,"i":269},{"mz":1716.95,"i":180},{"mz":1717.25,"i":95},{"mz":1717.5,"i":160},{"mz":1717.8,"i":250},{"mz":1718.0,"i":170},{"mz":1718.2,"i":82},{"mz":1718.5,"i":140},{"mz":1718.8,"i":209},{"mz":1719.0,"i":150},{"mz":1719.15,"i":72},{"mz":1719.4,"i":100},{"mz":1719.7,"i":135},{"mz":1719.9,"i":80},{"mz":1720.1,"i":42},{"mz":1720.35,"i":55},{"mz":1720.6,"i":74},{"mz":1720.8,"i":50},{"mz":1721.0,"i":39},{"mz":1721.3,"i":40},{"mz":1721.6,"i":45},{"mz":1721.85,"i":29},{"mz":1722.2,"i":25},{"mz":1722.6,"i":21},{"mz":1723,"i":19},{"mz":1723.4,"i":16},{"mz":1723.8,"i":14},{"mz":1724.2,"i":15},{"mz":1724.6,"i":12},{"mz":1725,"i":14},{"mz":1725.4,"i":11},{"mz":1725.8,"i":13},{"mz":1726.2,"i":10},{"mz":1726.6,"i":13},{"mz":1727,"i":11},{"mz":1727.4,"i":12},{"mz":1727.8,"i":10},{"mz":1728.2,"i":13},{"mz":1728.6,"i":11},{"mz":1729,"i":14},{"mz":1729.4,"i":11},{"mz":1729.8,"i":12},{"mz":1730.2,"i":10},{"mz":1730.6,"i":13},{"mz":1731,"i":11},{"mz":1731.4,"i":12},{"mz":1731.8,"i":10},{"mz":1732.2,"i":14},{"mz":1732.6,"i":17},{"mz":1733,"i":12},{"mz":1733.4,"i":11},{"mz":1733.8,"i":13},{"mz":1734.2,"i":10},{"mz":1734.6,"i":12},{"mz":1735,"i":11},{"mz":1735.4,"i":13},{"mz":1735.8,"i":12},{"mz":1736.2,"i":14},{"mz":1736.6,"i":12},{"mz":1737,"i":13},{"mz":1737.4,"i":12},{"mz":1737.8,"i":18},{"mz":1738.1,"i":28},{"mz":1738.35,"i":40},{"mz":1738.6,"i":22},{"mz":1738.9,"i":25},{"mz":1739.15,"i":39},{"mz":1739.4,"i":22}
],
"d_t": [
{"mz":1646.9,"i":255,"t":"[M-H-80]⁻\nmetastable\n1638.2"},
{"mz":1725.6,"i":265.5,"t":"[M-H]⁻\n1715.6"}
]
},
"concat": [
{
  "width": 467, "height": 318,
  "title": {"text": "a) MALDI linear positive ion mode", "offset": 0},
  "encoding": {
    "x": {"field": "mz", "type": "quantitative", "scale": {"domain": [1630, 1740], "nice": false, "zero": false},
          "axis": {"values": [1640,1660,1680,1700,1720,1740], "format": "d", "labelFontWeight": "bold", "labelFontSize": 15, "labelFont": "Liberation Sans", "tickSize": 3, "labelPadding": 4, "labelFlush": false, "labelOverlap": false}},
    "y": {"field": "i", "type": "quantitative", "scale": {"domain": [-27, 291], "nice": false, "zero": false},
          "axis": {"values": [0, 62.5, 125, 187.5, 250], "labels": false, "tickSize": 3}}
  },
  "layer": [
    {"data": {"name": "a"}, "mark": {"type": "line", "color": "black", "strokeWidth": 0.9}, "encoding": {}},
    {"data": {"name": "a_t"}, "mark": {"type": "text", "align": "center"}, "encoding": {"text": {"field": "t"}}}
  ]
},
{
  "width": 467, "height": 318,
  "title": {"text": "c) MALDI linear negative ion mode", "offset": 0},
  "encoding": {
    "x": {"field": "mz", "type": "quantitative", "scale": {"domain": [1630, 1740], "nice": false, "zero": false},
          "axis": {"values": [1640,1660,1680,1700,1720,1740], "format": "d", "labelFontWeight": "bold", "labelFontSize": 15, "labelFont": "Liberation Sans", "tickSize": 3, "labelPadding": 4, "labelFlush": false, "labelOverlap": false}},
    "y": {"field": "i", "type": "quantitative", "scale": {"domain": [-27, 291], "nice": false, "zero": false},
          "axis": {"values": [0, 57.4, 114.8, 172.2, 229.6, 287], "labels": false, "tickSize": 3}}
  },
  "layer": [
    {"data": {"name": "c"}, "mark": {"type": "line", "color": "black", "strokeWidth": 0.9}, "encoding": {}},
    {"data": {"name": "c_t"}, "mark": {"type": "text", "align": "left"}, "encoding": {"text": {"field": "t"}}}
  ]
},
{
  "width": 467, "height": 318,
  "title": {"text": "b) MALDI atmospheric pressure", "offset": 5},
  "encoding": {
    "x": {"field": "mz", "type": "quantitative", "scale": {"domain": [1630, 1740], "nice": false, "zero": false},
          "axis": {"values": [1630,1652,1674,1696,1718,1740], "format": "d", "labelFontWeight": "bold", "labelFontSize": 15, "labelFont": "Liberation Sans", "tickSize": 3, "labelPadding": 3, "labelFlush": false, "labelOverlap": false}},
    "y": {"field": "i", "type": "quantitative", "scale": {"domain": [0, 318], "nice": false, "zero": false},
          "axis": {"values": [0, 31.8, 63.6, 95.4, 127.2, 159, 190.8, 222.6, 254.4, 286.2, 318], "labels": false, "tickSize": 3}}
  },
  "layer": [
    {"data": {"name": "b"}, "mark": {"type": "line", "color": "black", "strokeWidth": 0.9}, "encoding": {}},
    {"data": {"name": "b_t"}, "mark": {"type": "text", "align": "center"}, "encoding": {"text": {"field": "t"}}}
  ]
},
{
  "width": 467, "height": 315,
  "title": {"text": "d) MALDI reflectron negative ion mode", "offset": 6},
  "encoding": {
    "x": {"field": "mz", "type": "quantitative", "scale": {"domain": [1630, 1740], "nice": false, "zero": false},
          "axis": {"values": [1640,1660,1680,1700,1720,1740], "format": "d", "labelFontWeight": "bold", "labelFontSize": 15, "labelFont": "Liberation Sans", "tickSize": 3, "labelPadding": 3, "labelFlush": false, "labelOverlap": false}},
    "y": {"field": "i", "type": "quantitative", "scale": {"domain": [-22, 293], "nice": false, "zero": false},
          "axis": {"values": [0, 41, 82, 123, 164, 205, 246, 287], "labels": false, "tickSize": 3}}
  },
  "layer": [
    {"data": {"name": "d"}, "mark": {"type": "line", "color": "black", "strokeWidth": 0.9}, "encoding": {}},
    {"data": {"name": "d_t"}, "mark": {"type": "text", "align": "center"}, "encoding": {"text": {"field": "t"}}}
  ]
}
]
}
